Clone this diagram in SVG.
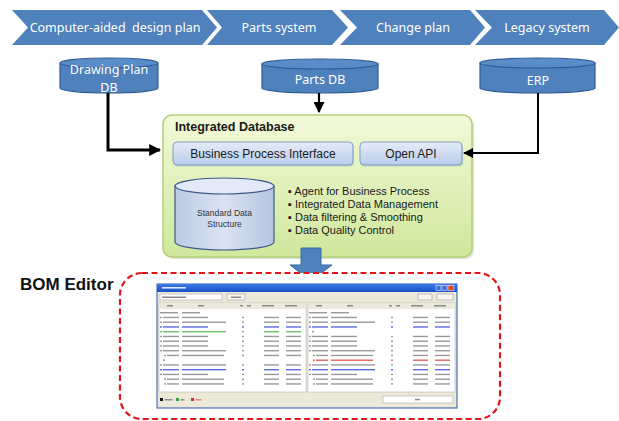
<svg xmlns="http://www.w3.org/2000/svg" xmlns:xlink="http://www.w3.org/1999/xlink" width="619" height="421" viewBox="0 0 619 421">
<style>
.chev{fill:#4f81bd;}
.chevtxt{font-family:"Noto Sans","Open Sans",sans-serif;font-size:12.5px;fill:#ffffff;text-anchor:middle;}
.cylbody{fill:#4f81bd;stroke:#2e5d95;stroke-width:1.2;}
.cyltop{fill:#5a8cc8;stroke:#2e5d95;stroke-width:1.2;}
.cyltxt{font-family:"Noto Sans","Open Sans",sans-serif;font-size:12.5px;fill:#ffffff;text-anchor:middle;}
.conn{fill:none;stroke:#000000;}
.ibtxt{font-family:"Liberation Sans",Arial,sans-serif;font-size:12px;fill:#1a1a1a;text-anchor:middle;}
.bul{font-family:"Liberation Sans",Arial,sans-serif;font-size:11px;fill:#1a1a1a;}
.tx{fill:currentColor;}
</style>
<defs>
<linearGradient id="gGreen" x1="0" y1="0" x2="0" y2="1">
<stop offset="0" stop-color="#f2f9d8"/>
<stop offset="1" stop-color="#cfe89c"/>
</linearGradient>
<linearGradient id="gBlueBox" x1="0" y1="0" x2="0" y2="1">
<stop offset="0" stop-color="#e4ecf8"/>
<stop offset="1" stop-color="#b9cce9"/>
</linearGradient>
<linearGradient id="gCyl" x1="0" y1="0" x2="1" y2="0">
<stop offset="0" stop-color="#bccae4"/>
<stop offset="0.5" stop-color="#dbe3f3"/>
<stop offset="1" stop-color="#b5c4e0"/>
</linearGradient>
<linearGradient id="gTitle" x1="0" y1="0" x2="0" y2="1">
<stop offset="0" stop-color="#3d7be8"/>
<stop offset="1" stop-color="#1650c8"/>
</linearGradient>
<marker id="ah" viewBox="0 0 10 10" refX="9" refY="5" markerWidth="4" markerHeight="4" markerUnits="strokeWidth" orient="auto">
<path d="M0,0 L10,5 L0,10 Z" fill="#000000"/>
</marker>
<marker id="ah2" viewBox="0 0 10 10" refX="9" refY="5" markerWidth="5" markerHeight="5" markerUnits="strokeWidth" orient="auto">
<path d="M0,0 L10,5 L0,10 Z" fill="#000000"/>
</marker>
<g id="rowA">
<rect class="tx" x="0" y="0" width="2" height="1.4"/>
<rect class="tx" x="3" y="0" width="16" height="1.4"/>
<rect class="tx" x="22" y="0" width="26" height="1.4"/>
<rect class="tx" x="82" y="0" width="2" height="1.4"/>
<rect class="tx" x="104" y="0" width="15" height="1.4"/>
<rect class="tx" x="126" y="0" width="15" height="1.4"/>
</g>
<g id="rowB">
<rect class="tx" x="0" y="0" width="2" height="1.4"/>
<rect class="tx" x="3" y="0" width="16" height="1.4"/>
<rect class="tx" x="22" y="0" width="44" height="1.4"/>
<rect class="tx" x="82" y="0" width="2" height="1.4"/>
<rect class="tx" x="104" y="0" width="15" height="1.4"/>
<rect class="tx" x="126" y="0" width="15" height="1.4"/>
</g>
<g id="rowC">
<rect class="tx" x="4" y="0" width="2" height="1.4"/>
<rect class="tx" x="7" y="0" width="12" height="1.4"/>
<rect class="tx" x="22" y="0" width="42" height="1.4"/>
<rect class="tx" x="82" y="0" width="2" height="1.4"/>
<rect class="tx" x="104" y="0" width="15" height="1.4"/>
<rect class="tx" x="126" y="0" width="15" height="1.4"/>
</g>
</defs>

<rect x="0" y="0" width="619" height="421" fill="#ffffff"/>

<!-- Process chevrons -->
<g id="chevrons">
<g id="chev-cad">
<path class="chev" d="M12,10 L202,10 L217,27.5 L202,45 L12,45 L28,27.5 Z"/>
<text class="chevtxt" x="115" y="32" xml:space="preserve">Computer-aided  design plan</text>
</g>
<g id="chev-parts">
<path class="chev" d="M207,10 L332,10 L348,27.5 L332,45 L207,45 L222,27.5 Z"/>
<text class="chevtxt" x="279" y="32">Parts system</text>
</g>
<g id="chev-change">
<path class="chev" d="M340,10 L470,10 L485,27.5 L470,45 L340,45 L357,27.5 Z"/>
<text class="chevtxt" x="413" y="32">Change plan</text>
</g>
<g id="chev-legacy">
<path class="chev" d="M475,10 L604,10 L619,27.5 L604,45 L475,45 L492,27.5 Z"/>
<text class="chevtxt" x="547" y="32">Legacy system</text>
</g>
</g>

<!-- Source databases -->
<g id="db-drawing">
<path class="cylbody" d="M60,63 L60,88 A49,5 0 0 0 158,88 L158,63 Z"/>
<ellipse class="cyltop" cx="109" cy="63" rx="49" ry="5"/>
<text class="cyltxt" x="109" y="74" font-size="12">Drawing Plan</text>
<text class="cyltxt" x="109" y="91.5" font-size="12">DB</text>
</g>
<g id="db-parts">
<path class="cylbody" d="M262,64 L262,88 A58,5 0 0 0 378,88 L378,64 Z"/>
<ellipse class="cyltop" cx="320" cy="64" rx="58" ry="5"/>
<text class="cyltxt" x="320" y="84">Parts DB</text>
</g>
<g id="db-erp">
<path class="cylbody" d="M480,63 L480,88 A57.5,5 0 0 0 595,88 L595,63 Z"/>
<ellipse class="cyltop" cx="537.5" cy="63" rx="57.5" ry="5"/>
<text class="cyltxt" x="538" y="85">ERP</text>
</g>

<!-- Integrated database -->
<g id="integrated-db">
<rect x="165" y="117" width="309" height="142" rx="9" fill="#9aa58a" opacity="0.35"/>
<rect x="163" y="115" width="309" height="142" rx="9" fill="url(#gGreen)" stroke="#b3cf78" stroke-width="1.5"/>
<text x="175" y="131" font-family="Liberation Sans, Arial, sans-serif" font-size="12.5" font-weight="bold" fill="#1a1a1a">Integrated Database</text>
</g>
<g id="bpi">
<rect x="174" y="143.5" width="180" height="23" rx="4" fill="#8a9bb5" opacity="0.35"/>
<rect x="173" y="142" width="180" height="23" rx="4" fill="url(#gBlueBox)" stroke="#7f9cc9" stroke-width="1"/>
<text class="ibtxt" x="263" y="158">Business Process Interface</text>
</g>
<g id="open-api">
<rect x="361" y="143.5" width="102" height="23" rx="4" fill="#8a9bb5" opacity="0.35"/>
<rect x="360" y="142" width="102" height="23" rx="4" fill="url(#gBlueBox)" stroke="#7f9cc9" stroke-width="1"/>
<text class="ibtxt" x="411" y="158">Open API</text>
</g>
<g id="std-data">
<path d="M175,186 L175,242 A49.5,8 0 0 0 274,242 L274,186 Z" fill="url(#gCyl)" stroke="#3d5a8a" stroke-width="1.2"/>
<ellipse cx="224.5" cy="186" rx="49.5" ry="8" fill="#e3e9f6" stroke="#3d5a8a" stroke-width="1.2"/>
<text x="224.5" y="216" font-family="Liberation Sans, Arial, sans-serif" font-size="8.5" fill="#333333" text-anchor="middle">Standard Data</text>
<text x="224.5" y="227" font-family="Liberation Sans, Arial, sans-serif" font-size="8.5" fill="#333333" text-anchor="middle">Structure</text>
</g>
<g id="features">
<text class="bul" x="288" y="195">▪ Agent for Business Process</text>
<text class="bul" x="288" y="208">▪ Integrated Data Management</text>
<text class="bul" x="288" y="221">▪ Data filtering &amp; Smoothing</text>
<text class="bul" x="288" y="234">▪ Data Quality Control</text>
</g>

<!-- Connectors -->
<g id="connectors">
<path class="conn" d="M108,93 V150 H160" stroke-width="3" marker-end="url(#ah)"/>
<path class="conn" d="M319,93 V112" stroke-width="2.2" marker-end="url(#ah2)"/>
<path class="conn" d="M538,93 V153 H464" stroke-width="2" marker-end="url(#ah2)"/>
<path d="M301,248 L321,248 L321,265 L332,265 L311,281 L290,265 L301,265 Z" fill="#4f81bd" stroke="#3b6aa0" stroke-width="1"/>
</g>

<!-- BOM Editor -->
<g id="bom-editor">
<text x="20" y="290" font-family="Liberation Sans, Arial, sans-serif" font-size="17" font-weight="bold" fill="#111111">BOM Editor</text>
<rect x="120" y="273" width="380" height="146" rx="22" fill="#ffffff" stroke="#e0151b" stroke-width="2.2" stroke-dasharray="6,3.5"/>
</g>

<!-- Screenshot of BOM editor window -->
<g id="bom-screenshot">
<rect x="157" y="284" width="300" height="124" fill="#ece9d8" stroke="#2456b8" stroke-width="1"/>
<rect x="157" y="284" width="300" height="8" fill="url(#gTitle)"/>
<rect x="162" y="287" width="24" height="1.6" fill="#dfe8ff"/>
<rect x="436" y="285.5" width="5" height="5" fill="#3c6fe0" stroke="#ffffff" stroke-width="0.5"/>
<rect x="442" y="285.5" width="5" height="5" fill="#3c6fe0" stroke="#ffffff" stroke-width="0.5"/>
<rect x="448" y="285.5" width="6" height="5" fill="#d9492c" stroke="#ffffff" stroke-width="0.5"/>
<rect x="160" y="294" width="62" height="6" fill="#ffffff" stroke="#9a9a9a" stroke-width="0.5"/>
<rect x="162" y="296.5" width="24" height="1.5" fill="#888888"/>
<rect x="227" y="294" width="18" height="6" fill="#f6f6f3" stroke="#8a8a8a" stroke-width="0.5"/>
<rect x="231" y="296.5" width="10" height="1.5" fill="#888888"/>
<rect x="418" y="294" width="14" height="6" fill="#f6f6f3" stroke="#8a8a8a" stroke-width="0.5"/>
<rect x="437" y="294" width="16" height="6" fill="#f6f6f3" stroke="#8a8a8a" stroke-width="0.5"/>
<rect x="159" y="303" width="147" height="89" fill="#ffffff" stroke="#a8a8a8" stroke-width="0.5"/>
<rect x="308" y="303" width="147" height="89" fill="#ffffff" stroke="#a8a8a8" stroke-width="0.5"/>
<rect x="159" y="303" width="147" height="6" fill="#ebe8dc"/>
<rect x="308" y="303" width="147" height="6" fill="#ebe8dc"/>
<g fill="#8a8a8a">
<rect x="167" y="305" width="6" height="1.5"/><rect x="198" y="305" width="6" height="1.5"/><rect x="240" y="305" width="3" height="1.5"/><rect x="247" y="305" width="4" height="1.5"/><rect x="262" y="305" width="12" height="1.5"/><rect x="285" y="305" width="12" height="1.5"/>
<rect x="316" y="305" width="6" height="1.5"/><rect x="347" y="305" width="6" height="1.5"/><rect x="389" y="305" width="3" height="1.5"/><rect x="396" y="305" width="4" height="1.5"/><rect x="411" y="305" width="12" height="1.5"/><rect x="434" y="305" width="12" height="1.5"/>
</g>
<g color="#9a9a9a">
<rect class="tx" x="160" y="312" width="18" height="1.4"/><rect class="tx" x="182" y="312" width="18" height="1.4"/>
<use xlink:href="#rowA" x="160" y="316.75"/>
<use xlink:href="#rowB" x="160" y="321.5"/>
<use xlink:href="#rowA" x="160" y="326.25" color="#5a6ae0"/>
<use xlink:href="#rowB" x="160" y="331" color="#6cc063"/>
<use xlink:href="#rowA" x="160" y="335.75"/>
<use xlink:href="#rowA" x="160" y="340.5"/>
<use xlink:href="#rowA" x="160" y="345.25"/>
<use xlink:href="#rowB" x="160" y="350"/>
<use xlink:href="#rowC" x="160" y="354.75"/>
<rect class="tx" x="163" y="359.5" width="2" height="1.4"/>
<use xlink:href="#rowB" x="160" y="364.25"/>
<use xlink:href="#rowB" x="160" y="369" color="#5a6ae0"/>
<use xlink:href="#rowA" x="160" y="373.75"/>
<use xlink:href="#rowC" x="160" y="378.5"/>
<use xlink:href="#rowC" x="160" y="383.25"/>

<rect class="tx" x="309" y="312" width="18" height="1.4"/><rect class="tx" x="331" y="312" width="18" height="1.4"/>
<use xlink:href="#rowA" x="309" y="316.75"/>
<use xlink:href="#rowB" x="309" y="321.5"/>
<use xlink:href="#rowA" x="309" y="326.25" color="#5a6ae0"/>
<rect class="tx" x="312" y="331" width="2" height="1.4"/>
<use xlink:href="#rowA" x="309" y="335.75"/>
<use xlink:href="#rowA" x="309" y="340.5"/>
<use xlink:href="#rowA" x="309" y="345.25"/>
<use xlink:href="#rowB" x="309" y="350"/>
<use xlink:href="#rowC" x="309" y="354.75"/>
<use xlink:href="#rowC" x="309" y="359.5" color="#e8625a"/>
<use xlink:href="#rowB" x="309" y="364.25"/>
<use xlink:href="#rowB" x="309" y="369" color="#5a6ae0"/>
<use xlink:href="#rowA" x="309" y="373.75"/>
<use xlink:href="#rowC" x="309" y="378.5"/>
<use xlink:href="#rowC" x="309" y="383.25"/>
</g>
<rect x="160" y="398" width="3" height="3" fill="#111111"/><rect x="164.5" y="399" width="8" height="1.5" fill="#8a8a8a"/>
<rect x="176" y="398" width="3" height="3" fill="#2ea043"/><rect x="180.5" y="399" width="4" height="1.5" fill="#8a8a8a"/>
<rect x="191" y="398" width="3" height="3" fill="#e0262b"/><rect x="195.5" y="399" width="6" height="1.5" fill="#e08a8a"/>
<rect x="383" y="396" width="70" height="7" fill="#ffffff" stroke="#9a9a9a" stroke-width="0.5"/>
<rect x="415" y="398.8" width="5" height="1.5" fill="#8a8a8a"/>
</g>
</svg>
